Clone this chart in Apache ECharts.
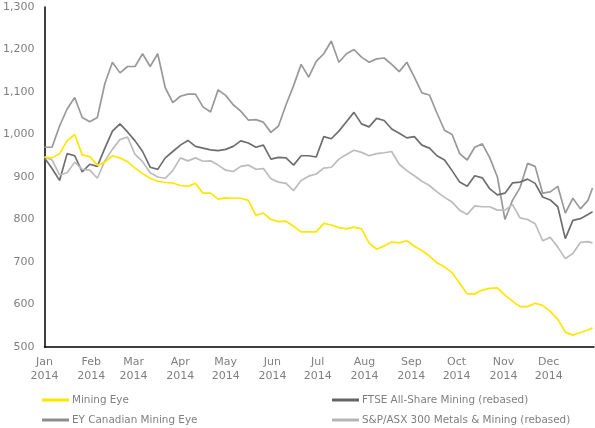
<!DOCTYPE html>
<html>
<head>
<meta charset="utf-8">
<script src="https://cdn.jsdelivr.net/npm/echarts@6/dist/echarts.min.js"></script>
<style>
  html, body { margin: 0; padding: 0; background: #fff; }
  #chart { width: 595px; height: 428px; }
</style>
</head>
<body>
<div id="chart"></div>
<script>
// sample dates: every 5 days from 1 Jan 2014
var startDay = Date.UTC(2014, 0, 1);
var dates = [];
for (var i = 0; i < 73; i++) {
    dates.push(startDay + i * 5 * 86400000);
}
dates.push(Date.UTC(2014, 11, 30));

var monthNames = ['Jan', 'Feb', 'Mar', 'Apr', 'May', 'Jun', 'Jul', 'Aug', 'Sep', 'Oct', 'Nov', 'Dec'];

var seriesNames = [
    'Mining Eye',
    'EY Canadian Mining Eye',
    'FTSE All-Share Mining (rebased)',
    'S&P/ASX 300 Metals & Mining (rebased)'
];

var miningEye = [
    947, 945, 955, 985, 1000, 952, 948, 928, 935, 950,
    945, 936, 921, 908, 897, 890, 887, 886, 880, 878,
    885, 862, 862, 848, 851, 850, 850, 845, 810, 815,
    800, 795, 796, 784, 771, 771, 771, 791, 787, 781,
    778, 782, 778, 745, 730, 738, 747, 745, 750, 737,
    727, 714, 698, 688, 675, 650, 625, 625, 634, 638,
    639, 622, 608, 595, 595, 603, 598, 584, 565, 535,
    528, 534, 540, 545
];
var canadianEye = [
    970, 970, 1020, 1060, 1087, 1040, 1030, 1040, 1120, 1170,
    1145, 1160, 1160, 1190, 1160, 1190, 1110, 1075, 1090, 1095,
    1095, 1065, 1053, 1105, 1092, 1070, 1055, 1034, 1035, 1029,
    1005, 1020, 1070, 1115, 1165, 1135, 1172, 1190, 1220, 1170,
    1190, 1200, 1182, 1170, 1178, 1180, 1165, 1148, 1170, 1135,
    1098, 1093, 1050, 1010, 1000, 955, 940, 970, 978, 945,
    900, 800, 845, 875, 932, 925, 862, 865, 878, 815,
    850, 825, 845, 874
];
var ftseMining = [
    945, 920, 892, 955, 950, 912, 930, 925, 968, 1008,
    1025, 1006, 985, 960, 923, 918, 945, 960, 975, 986,
    972, 968, 964, 962, 965, 972, 985, 980, 970, 975,
    942, 946, 945, 928, 950, 950, 947, 995, 990, 1008,
    1030, 1052, 1025, 1018, 1038, 1033, 1013, 1003, 992, 995,
    975, 968, 950, 940, 915, 888, 878, 903, 898, 872,
    858, 862, 886, 888, 895, 885, 853, 846, 830, 755,
    798, 802, 812, 818
];
var asxMetals = [
    947, 940, 905, 910, 935, 918, 916, 897, 938, 965,
    988, 994, 953, 936, 910, 900, 897, 915, 945, 938,
    945, 937, 938, 928, 916, 913, 925, 928, 918, 920,
    896, 888, 885, 868, 892, 902, 907, 921, 923, 942,
    953, 963, 958, 950, 955, 957, 960, 930, 915, 903,
    890, 880, 865, 852, 841, 822, 812, 832, 830, 830,
    822, 822, 835, 804, 800, 790, 750, 758, 735, 708,
    720, 746, 748, 745
];

function pairs(vals) {
    return vals.map(function (v, i) { return [dates[i], v]; });
}

var myChart = echarts.init(document.getElementById('chart'));

var textColor = '#7f7f7f';
var fontFam = 'DejaVu Sans, Verdana, sans-serif';

// one legend per entry, laid out as 2 x 2
var legendSpots = [[42, 395], [42, 415], [332, 395], [332, 415]];
var legends = seriesNames.map(function (name, i) {
    return {
        show: true,
        left: legendSpots[i][0],
        top: legendSpots[i][1],
        padding: 0,
        icon: 'rect',
        itemWidth: 27,
        itemHeight: 3,
        itemGap: 0,
        selectedMode: false,
        textStyle: { color: textColor, fontSize: 10.4, fontFamily: fontFam, padding: [0, 0, 0, -2] },
        data: [name]
    };
});

var option = {
    animation: false,
    backgroundColor: '#fff',
    grid: { left: 44, right: 1, top: 7, bottom: 81 },
    legend: legends,
    xAxis: {
        type: 'time',
        min: Date.UTC(2014, 0, 1),
        max: Date.UTC(2014, 11, 31),
        splitNumber: 12,
        axisLine: { lineStyle: { color: '#000', width: 1.5 } },
        axisTick: { show: false },
        splitLine: { show: false },
        axisLabel: {
            color: textColor, fontSize: 11, fontFamily: fontFam, lineHeight: 14,
            showMaxLabel: false,
            formatter: function (val) {
                var d = new Date(val);
                return monthNames[d.getUTCMonth()] + '\n' + d.getUTCFullYear();
            }
        }
    },
    yAxis: {
        type: 'value',
        min: 500, max: 1300, interval: 100,
        axisLine: { show: true, lineStyle: { color: '#000', width: 1.5 } },
        axisTick: { show: false },
        splitLine: { show: false },
        axisLabel: {
            color: textColor, fontSize: 11, fontFamily: fontFam, margin: 10,
            formatter: function (v) { return v.toLocaleString('en-US'); }
        }
    },
    series: [
        { name: seriesNames[0], type: 'line', data: pairs(miningEye), showSymbol: false,
          color: '#ffe600', lineStyle: { width: 1.7, color: '#ffe600' }, z: 5 },
        { name: seriesNames[1], type: 'line', data: pairs(canadianEye), showSymbol: false,
          color: '#8c8c8c', lineStyle: { width: 1.7, color: '#999999' } },
        { name: seriesNames[2], type: 'line', data: pairs(ftseMining), showSymbol: false,
          color: '#646464', lineStyle: { width: 1.7, color: '#6e6e6e' } },
        { name: seriesNames[3], type: 'line', data: pairs(asxMetals), showSymbol: false,
          color: '#b4b4b4', lineStyle: { width: 1.7, color: '#bcbcbc' } }
    ]
};

myChart.setOption(option);
</script>
</body>
</html>
